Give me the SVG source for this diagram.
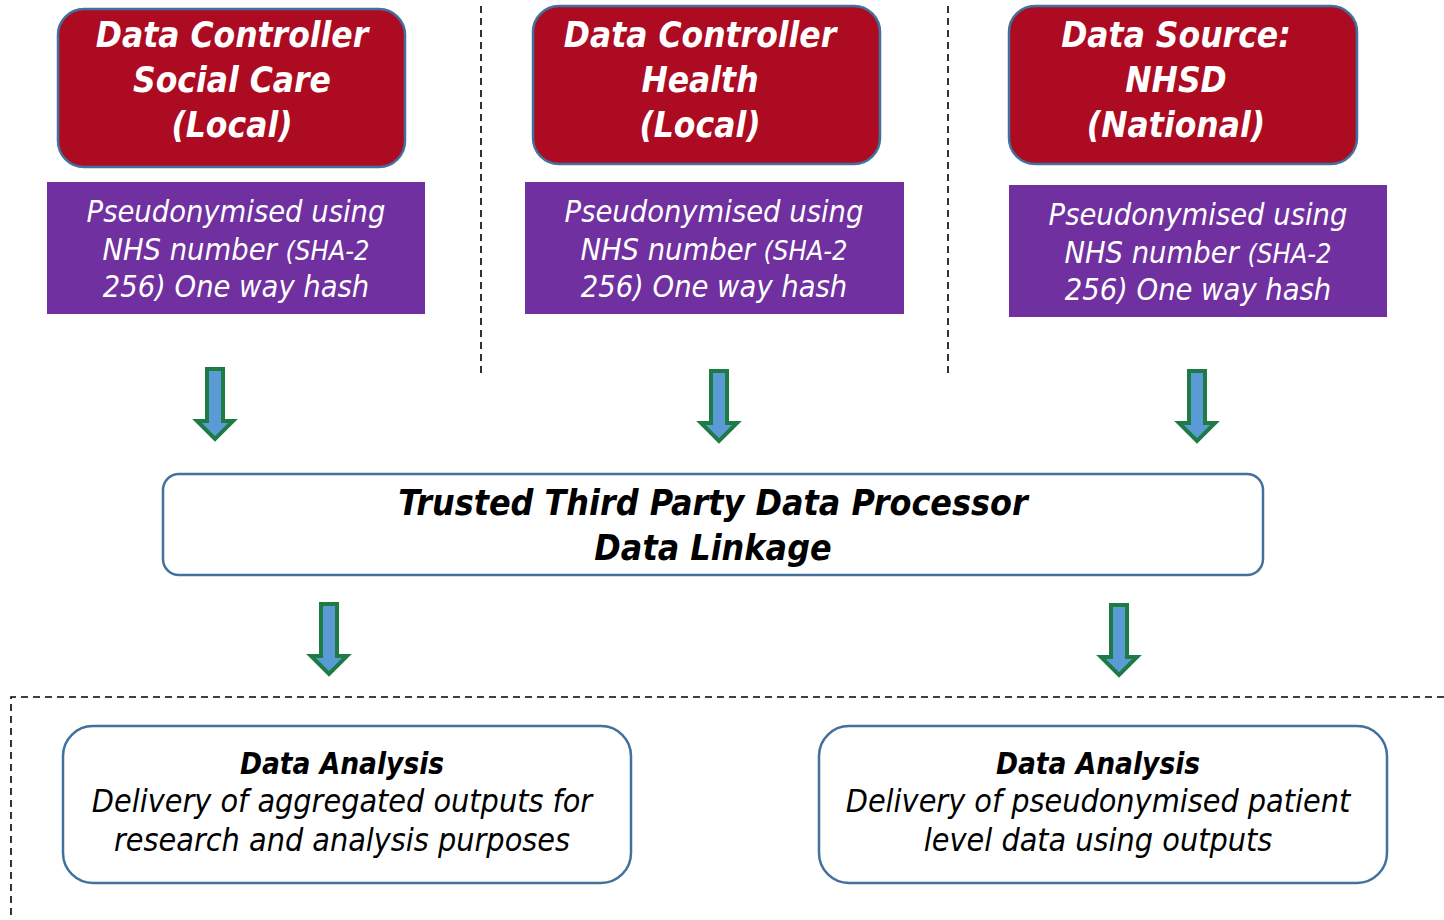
<svg xmlns="http://www.w3.org/2000/svg" width="1444" height="920" viewBox="0 0 1444 920">
  <defs>
    <style>
      .ctrl { fill: #AD0B22; stroke: #41719C; stroke-width: 2.5; }
      .pseudo { fill: #7030A0; }
      .proc { fill: #FFFFFF; stroke: #41719C; stroke-width: 2.5; }
      .divider { fill: none; stroke: #000000; stroke-width: 1.6; stroke-dasharray: 7 5; }
      .arrow { fill: #5B9BD5; stroke: #1E7B45; stroke-width: 4; stroke-linejoin: miter; }
      text { font-family: "DejaVu Sans Condensed", "DejaVu Sans", sans-serif; font-stretch: condensed; font-style: italic; text-anchor: middle; }
      .title { font-size: 35px; font-weight: bold; fill: #FFFFFF; }
      .note { font-size: 30.5px; fill: #FFFFFF; }
      .note .small { font-size: 27px; }
      .heading { font-size: 35.5px; font-weight: bold; fill: #000000; }
      .sub { font-size: 29.5px; font-weight: bold; fill: #000000; }
      .body { font-size: 32px; fill: #000000; }
    </style>
    <!-- down arrow centred on x=0, shaft top at y=0 -->
    <path id="down" class="arrow" d="M -8 0 H 8 V 52 H 18 L 0 70 L -18 52 H -8 Z"/>
  </defs>

  <!-- dashed separators -->
  <g id="dividers">
    <line class="divider" x1="481" y1="6" x2="481" y2="378"/>
    <line class="divider" x1="948" y1="6" x2="948" y2="378"/>
    <polyline class="divider" points="1444,697 11,697 11,920"/>
  </g>

  <g id="controller-social-care">
    <rect class="ctrl" x="58" y="9" width="347" height="158" rx="26"/>
    <text class="title" x="232" y="47">Data Controller</text>
    <text class="title" x="232" y="92">Social Care</text>
    <text class="title" x="232" y="137">(Local)</text>
  </g>
  <g id="controller-health">
    <rect class="ctrl" x="533" y="6" width="347" height="158" rx="26"/>
    <text class="title" x="700" y="47">Data Controller</text>
    <text class="title" x="700" y="92">Health</text>
    <text class="title" x="700" y="137">(Local)</text>
  </g>
  <g id="source-nhsd">
    <rect class="ctrl" x="1009" y="6" width="348" height="158" rx="26"/>
    <text class="title" x="1176" y="47">Data Source:</text>
    <text class="title" x="1176" y="92">NHSD</text>
    <text class="title" x="1176" y="137">(National)</text>
  </g>

  <g id="pseudo-social-care">
    <rect class="pseudo" x="47" y="182" width="378" height="132"/>
    <text class="note" x="236" y="222">Pseudonymised using</text>
    <text class="note" x="236" y="260">NHS number <tspan class="small">(SHA-2</tspan></text>
    <text class="note" x="236" y="297">256) One way hash</text>
  </g>
  <g id="pseudo-health">
    <rect class="pseudo" x="525" y="182" width="379" height="132"/>
    <text class="note" x="714" y="222">Pseudonymised using</text>
    <text class="note" x="714" y="260">NHS number <tspan class="small">(SHA-2</tspan></text>
    <text class="note" x="714" y="297">256) One way hash</text>
  </g>
  <g id="pseudo-nhsd">
    <rect class="pseudo" x="1009" y="185" width="378" height="132"/>
    <text class="note" x="1198" y="225">Pseudonymised using</text>
    <text class="note" x="1198" y="263">NHS number <tspan class="small">(SHA-2</tspan></text>
    <text class="note" x="1198" y="300">256) One way hash</text>
  </g>

  <g id="connectors">
    <use href="#down" x="215" y="369"/>
    <use href="#down" x="719" y="371"/>
    <use href="#down" x="1197" y="371"/>
    <use href="#down" x="329" y="604"/>
    <use href="#down" x="1119" y="605"/>
  </g>

  <g id="trusted-third-party">
    <rect class="proc" x="163" y="474" width="1100" height="101" rx="16"/>
    <text class="heading" x="713" y="515">Trusted Third Party Data Processor</text>
    <text class="heading" x="713" y="560">Data Linkage</text>
  </g>

  <g id="analysis-aggregated">
    <rect class="proc" x="63" y="726" width="568" height="157" rx="30"/>
    <text class="sub" x="342" y="774">Data Analysis</text>
    <text class="body" x="342" y="812">Delivery of aggregated outputs for</text>
    <text class="body" x="342" y="851">research and analysis purposes</text>
  </g>
  <g id="analysis-patient-level">
    <rect class="proc" x="819" y="726" width="568" height="157" rx="30"/>
    <text class="sub" x="1098" y="774">Data Analysis</text>
    <text class="body" x="1098" y="812">Delivery of pseudonymised patient</text>
    <text class="body" x="1098" y="851">level data using outputs</text>
  </g>
</svg>
